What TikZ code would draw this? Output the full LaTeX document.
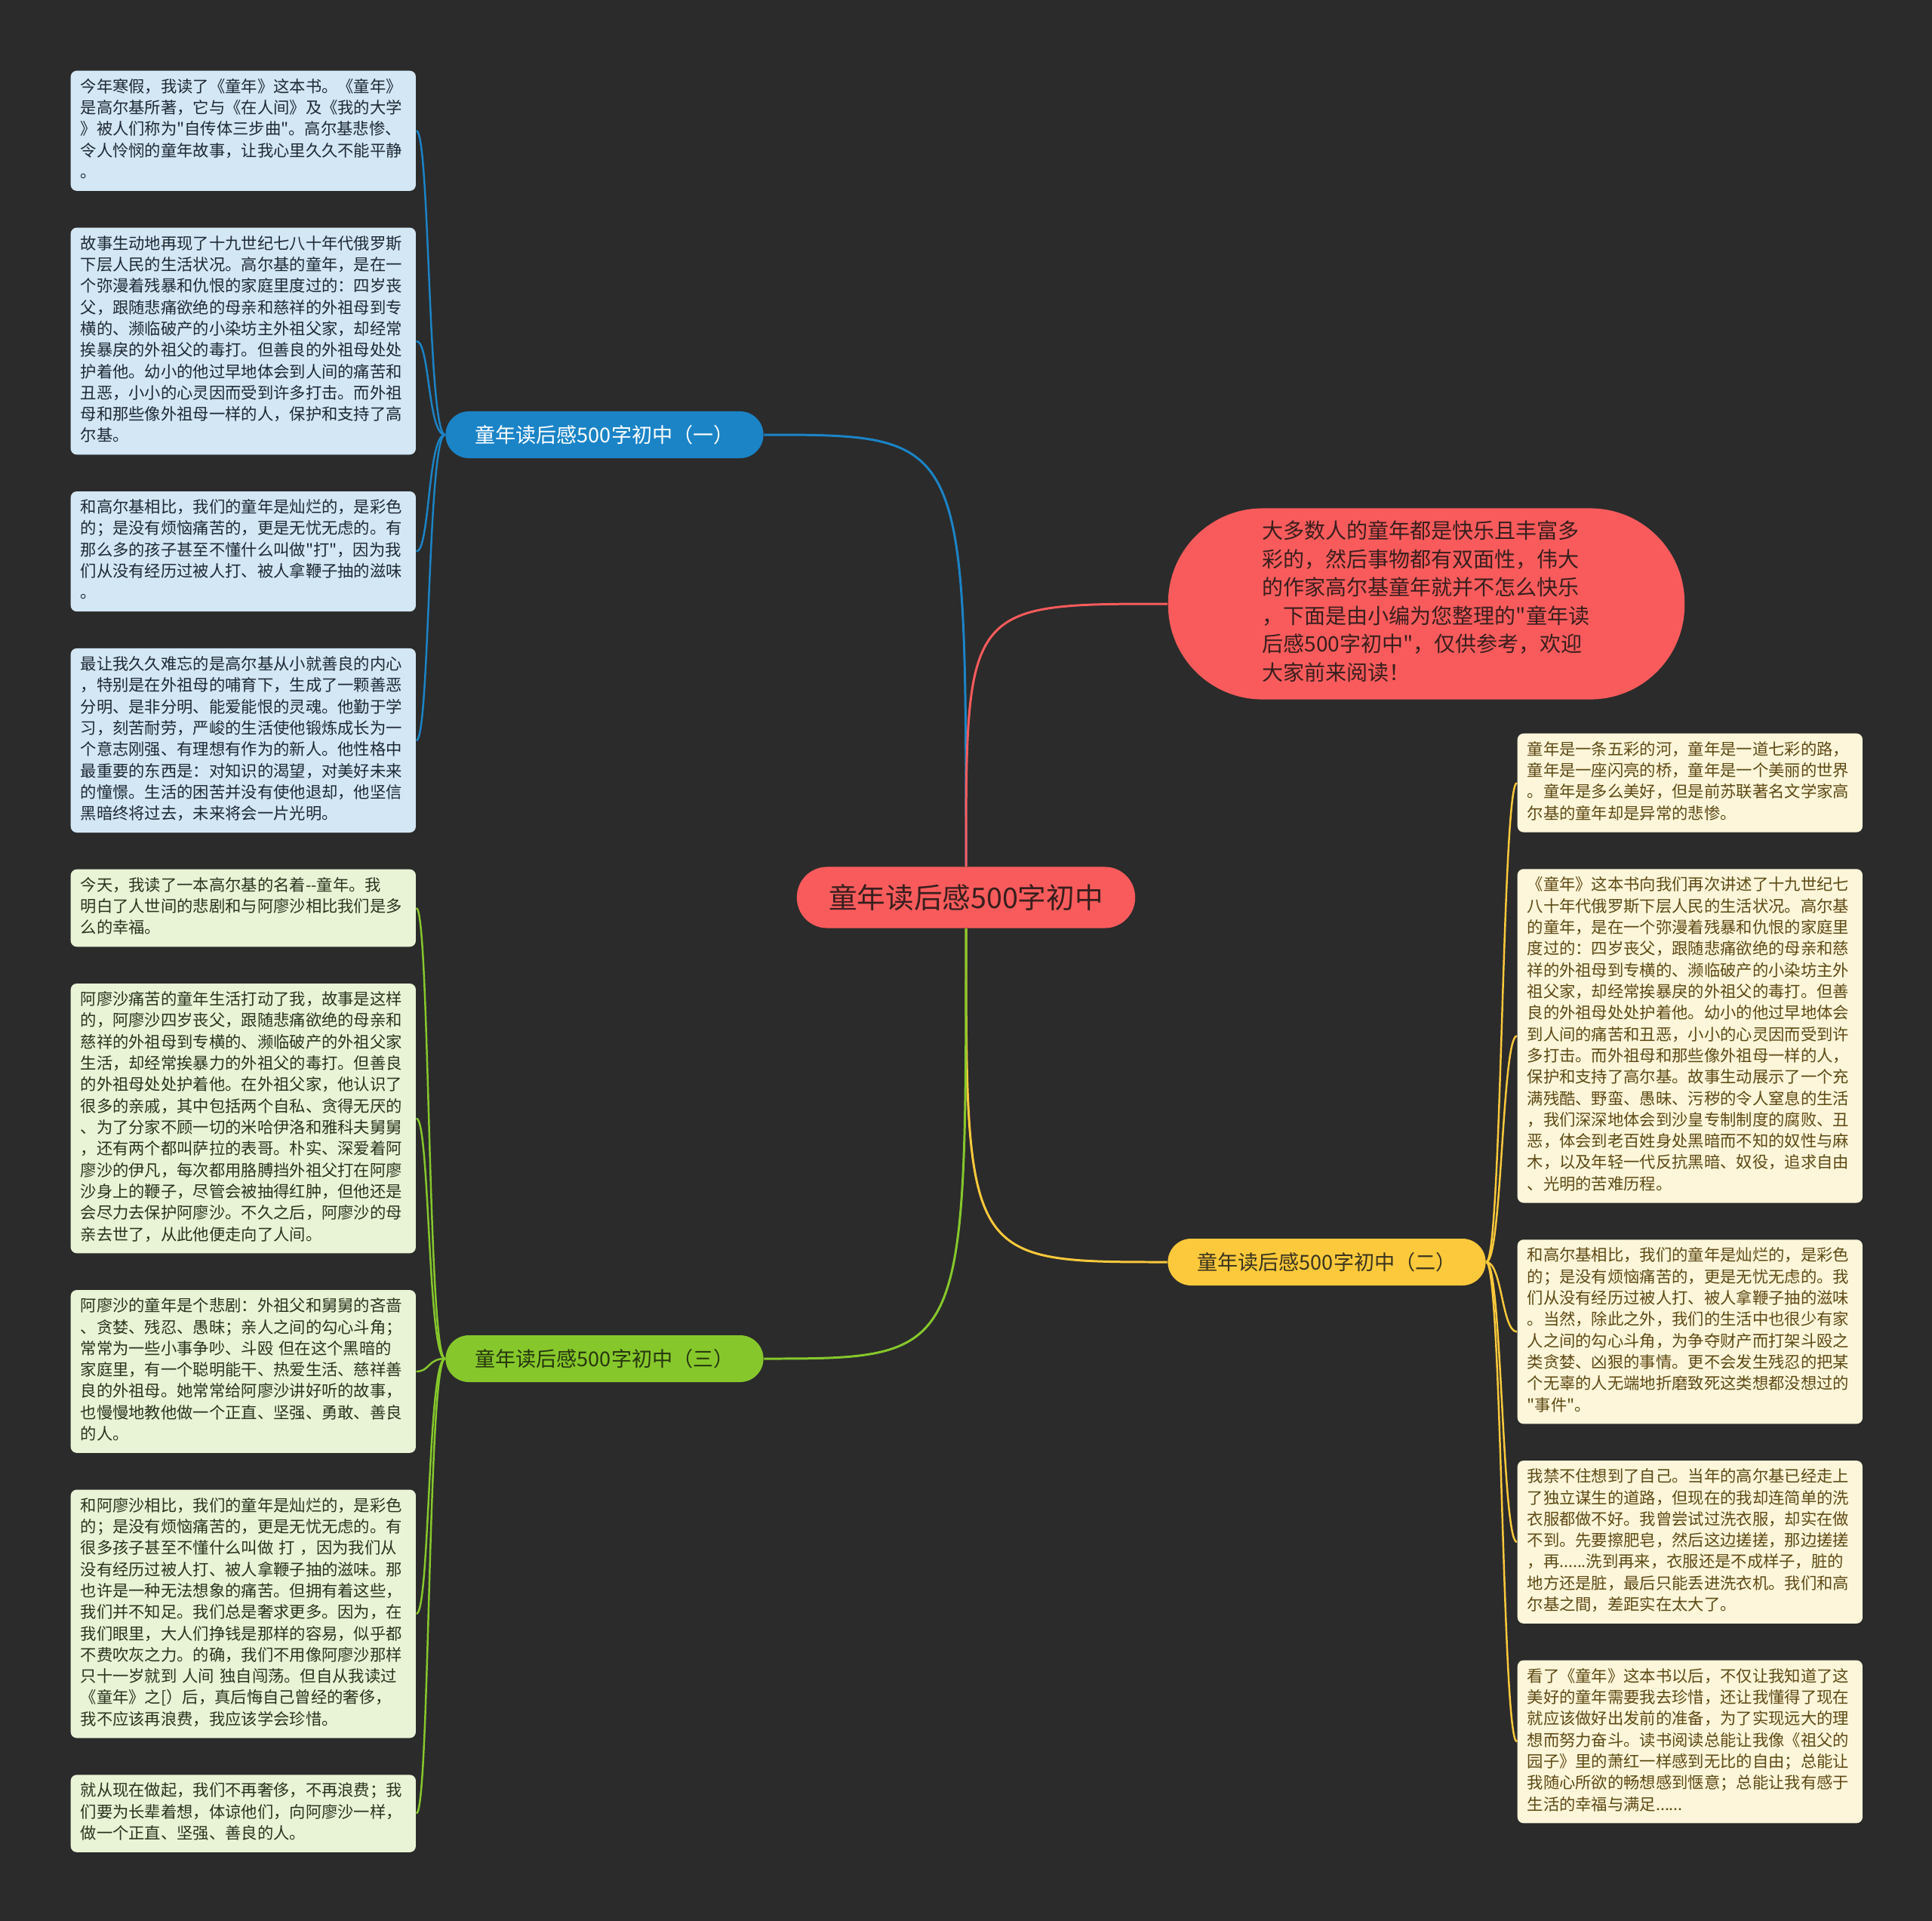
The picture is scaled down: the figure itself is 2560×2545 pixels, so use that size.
\documentclass[tikz,border=0pt]{standalone}
\usepackage{fontspec}
\setmainfont{Noto Sans CJK SC}[Ligatures=TeXOff]
\usepackage{tikz}
\usetikzlibrary{positioning}

\definecolor{bgdark}{HTML}{2B2B2B}
\definecolor{topred}{HTML}{F95B5C}
\definecolor{blueone}{HTML}{1B84C7}
\definecolor{yellowtwo}{HTML}{FBC93B}
\definecolor{greenthree}{HTML}{86C82B}
\definecolor{blueleaf}{HTML}{D3E7F5}
\definecolor{greenleaf}{HTML}{E9F4D6}
\definecolor{yellowleaf}{HTML}{FDF6DA}
\definecolor{bluetext}{HTML}{1E2933}
\definecolor{greentext}{HTML}{2A331E}
\definecolor{yellowtext}{HTML}{5E4914}
\definecolor{redtext}{HTML}{3A1E1E}
\definecolor{twotext}{HTML}{3A3320}
\definecolor{threetext}{HTML}{26360F}

\newcommand\leaffont{\fontsize{6.06pt}{8.05pt}\selectfont}
\newcommand\introfont{\fontsize{7.97pt}{10.67pt}\selectfont}
\newcommand\branchfont{\fontsize{7.7pt}{9pt}\selectfont}
\newcommand\rootfont{\fontsize{10.7pt}{12pt}\selectfont}

\begin{document}
\begin{tikzpicture}[x=0.01cm,y=-0.01cm,node distance=0.473cm,
  leafbox/.style={rounded corners=0.08cm,inner xsep=0.13cm,inner ysep=0.088cm,
    text width=4.31cm,align=left,font=\leaffont,
    execute at begin node={\noindent\strut},execute at end node=\strut},
  blueleafbox/.style={leafbox,fill=blueleaf,text=bluetext},
  greenleafbox/.style={leafbox,fill=greenleaf,text=greentext},
  yellowleafbox/.style={leafbox,fill=yellowleaf,text=yellowtext},
  branchbox/.style={rounded corners=0.31cm,minimum width=4.21cm,minimum height=0.62cm,
    inner sep=0pt,font=\branchfont},
  mainlink/.style={line width=0.85pt},
  leaflink/.style={line width=0.7pt}]

\fill[bgdark] (0,0) rectangle (2560,2545);

\node[rounded corners=0.40cm,minimum width=4.48cm,minimum height=0.81cm,inner sep=0pt,
  fill=topred,text=redtext,font=\rootfont] (root) at (1280,1189) {童年读后感500字初中};

\node[rounded corners=1.25cm,minimum width=6.84cm,minimum height=2.53cm,inner sep=0pt,
  text width=4.35cm,align=left,fill=topred,text=redtext,font=\introfont,
  execute at begin node={\noindent\strut},execute at end node=\strut] (intro) at (1890,800)
  {大多数人的童年都是快乐且丰富多\\
   彩的，然后事物都有双面性，伟大\\
   的作家高尔基童年就并不怎么快乐\\
   ，下面是由小编为您整理的"童年读\\
   后感500字初中"，仅供参考，欢迎\\
   大家前来阅读！};

\node[branchbox,fill=blueone,text=white] (one) at (801,576) {童年读后感500字初中（一）};
\node[branchbox,fill=yellowtwo,text=twotext] (two) at (1758,1672) {童年读后感500字初中（二）};
\node[branchbox,fill=greenthree,text=threetext] (three) at (801,1800) {童年读后感500字初中（三）};

\node[blueleafbox,anchor=north west] (one1) at (93,93)
  {今年寒假，我读了《童年》这本书。《童年》\\
   是高尔基所著，它与《在人间》及《我的大学\\
   》被人们称为"自传体三步曲"。高尔基悲惨、\\
   令人怜悯的童年故事，让我心里久久不能平静\\
   。};
\node[blueleafbox,below=of one1] (one2)
  {故事生动地再现了十九世纪七八十年代俄罗斯\\
   下层人民的生活状况。高尔基的童年，是在一\\
   个弥漫着残暴和仇恨的家庭里度过的：四岁丧\\
   父，跟随悲痛欲绝的母亲和慈祥的外祖母到专\\
   横的、濒临破产的小染坊主外祖父家，却经常\\
   挨暴戾的外祖父的毒打。但善良的外祖母处处\\
   护着他。幼小的他过早地体会到人间的痛苦和\\
   丑恶，小小的心灵因而受到许多打击。而外祖\\
   母和那些像外祖母一样的人，保护和支持了高\\
   尔基。};
\node[blueleafbox,below=of one2] (one3)
  {和高尔基相比，我们的童年是灿烂的，是彩色\\
   的；是没有烦恼痛苦的，更是无忧无虑的。有\\
   那么多的孩子甚至不懂什么叫做"打"，因为我\\
   们从没有经历过被人打、被人拿鞭子抽的滋味\\
   。};
\node[blueleafbox,below=of one3] (one4)
  {最让我久久难忘的是高尔基从小就善良的内心\\
   ，特别是在外祖母的哺育下，生成了一颗善恶\\
   分明、是非分明、能爱能恨的灵魂。他勤于学\\
   习，刻苦耐劳，严峻的生活使他锻炼成长为一\\
   个意志刚强、有理想有作为的新人。他性格中\\
   最重要的东西是：对知识的渴望，对美好未来\\
   的憧憬。生活的困苦并没有使他退却，他坚信\\
   黑暗终将过去，未来将会一片光明。};

\node[greenleafbox,below=of one4] (three1)
  {今天，我读了一本高尔基的名着--童年。我\\
   明白了人世间的悲剧和与阿廖沙相比我们是多\\
   么的幸福。};
\node[greenleafbox,below=of three1] (three2)
  {阿廖沙痛苦的童年生活打动了我，故事是这样\\
   的，阿廖沙四岁丧父，跟随悲痛欲绝的母亲和\\
   慈祥的外祖母到专横的、濒临破产的外祖父家\\
   生活，却经常挨暴力的外祖父的毒打。但善良\\
   的外祖母处处护着他。在外祖父家，他认识了\\
   很多的亲戚，其中包括两个自私、贪得无厌的\\
   、为了分家不顾一切的米哈伊洛和雅科夫舅舅\\
   ，还有两个都叫萨拉的表哥。朴实、深爱着阿\\
   廖沙的伊凡，每次都用胳膊挡外祖父打在阿廖\\
   沙身上的鞭子，尽管会被抽得红肿，但他还是\\
   会尽力去保护阿廖沙。不久之后，阿廖沙的母\\
   亲去世了，从此他便走向了人间。};
\node[greenleafbox,below=of three2] (three3)
  {阿廖沙的童年是个悲剧：外祖父和舅舅的吝啬\\
   、贪婪、残忍、愚昧；亲人之间的勾心斗角；\\
   常常为一些小事争吵、斗殴 但在这个黑暗的\\
   家庭里，有一个聪明能干、热爱生活、慈祥善\\
   良的外祖母。她常常给阿廖沙讲好听的故事，\\
   也慢慢地教他做一个正直、坚强、勇敢、善良\\
   的人。};
\node[greenleafbox,below=of three3] (three4)
  {和阿廖沙相比，我们的童年是灿烂的，是彩色\\
   的；是没有烦恼痛苦的，更是无忧无虑的。有\\
   很多孩子甚至不懂什么叫做 打 ，因为我们从\\
   没有经历过被人打、被人拿鞭子抽的滋味。那\\
   也许是一种无法想象的痛苦。但拥有着这些，\\
   我们并不知足。我们总是奢求更多。因为，在\\
   我们眼里，大人们挣钱是那样的容易，似乎都\\
   不费吹灰之力。的确，我们不用像阿廖沙那样\\
   只十一岁就到 人间 独自闯荡。但自从我读过\\
   《童年》之[）后，真后悔自己曾经的奢侈，\\
   我不应该再浪费，我应该学会珍惜。};
\node[greenleafbox,below=of three4] (three5)
  {就从现在做起，我们不再奢侈，不再浪费；我\\
   们要为长辈着想，体谅他们，向阿廖沙一样，\\
   做一个正直、坚强、善良的人。};

\node[yellowleafbox,anchor=north west] (two1) at (2010,971)
  {童年是一条五彩的河，童年是一道七彩的路，\\
   童年是一座闪亮的桥，童年是一个美丽的世界\\
   。童年是多么美好，但是前苏联著名文学家高\\
   尔基的童年却是异常的悲惨。};
\node[yellowleafbox,below=of two1] (two2)
  {《童年》这本书向我们再次讲述了十九世纪七\\
   八十年代俄罗斯下层人民的生活状况。高尔基\\
   的童年，是在一个弥漫着残暴和仇恨的家庭里\\
   度过的：四岁丧父，跟随悲痛欲绝的母亲和慈\\
   祥的外祖母到专横的、濒临破产的小染坊主外\\
   祖父家，却经常挨暴戾的外祖父的毒打。但善\\
   良的外祖母处处护着他。幼小的他过早地体会\\
   到人间的痛苦和丑恶，小小的心灵因而受到许\\
   多打击。而外祖母和那些像外祖母一样的人，\\
   保护和支持了高尔基。故事生动展示了一个充\\
   满残酷、野蛮、愚昧、污秽的令人窒息的生活\\
   ，我们深深地体会到沙皇专制制度的腐败、丑\\
   恶，体会到老百姓身处黑暗而不知的奴性与麻\\
   木，以及年轻一代反抗黑暗、奴役，追求自由\\
   、光明的苦难历程。};
\node[yellowleafbox,below=of two2] (two3)
  {和高尔基相比，我们的童年是灿烂的，是彩色\\
   的；是没有烦恼痛苦的，更是无忧无虑的。我\\
   们从没有经历过被人打、被人拿鞭子抽的滋味\\
   。当然，除此之外，我们的生活中也很少有家\\
   人之间的勾心斗角，为争夺财产而打架斗殴之\\
   类贪婪、凶狠的事情。更不会发生残忍的把某\\
   个无辜的人无端地折磨致死这类想都没想过的\\
   "事件"。};
\node[yellowleafbox,below=of two3] (two4)
  {我禁不住想到了自己。当年的高尔基已经走上\\
   了独立谋生的道路，但现在的我却连简单的洗\\
   衣服都做不好。我曾尝试过洗衣服，却实在做\\
   不到。先要擦肥皂，然后这边搓搓，那边搓搓\\
   ，再......洗到再来，衣服还是不成样子，脏的\\
   地方还是脏，最后只能丢进洗衣机。我们和高\\
   尔基之間，差距实在太大了。};
\node[yellowleafbox,below=of two4] (two5)
  {看了《童年》这本书以后，不仅让我知道了这\\
   美好的童年需要我去珍惜，还让我懂得了现在\\
   就应该做好出发前的准备，为了实现远大的理\\
   想而努力奋斗。读书阅读总能让我像《祖父的\\
   园子》里的萧红一样感到无比的自由；总能让\\
   我随心所欲的畅想感到惬意；总能让我有感于\\
   生活的幸福与满足......};

\draw[mainlink,blueone] (root.north) .. controls (root.north |- one.east) .. (one.east);
\draw[mainlink,topred] (root.north) .. controls (root.north |- intro.west) .. (intro.west);
\draw[mainlink,yellowtwo] (root.south) .. controls (root.south |- two.west) .. (two.west);
\draw[mainlink,greenthree] (root.south) .. controls (root.south |- three.east) .. (three.east);

\foreach \n in {1,...,4}
  \draw[leaflink,blueone] (one.west) .. controls +(-23,0) and +(18,0) .. (one\n.east);
\foreach \n in {1,...,5}
  \draw[leaflink,greenthree] (three.west) .. controls +(-23,0) and +(18,0) .. (three\n.east);
\foreach \n in {1,...,5}
  \draw[leaflink,yellowtwo] (two.east) .. controls +(21,0) and +(-20,0) .. (two\n.west);
\end{tikzpicture}
\end{document}
